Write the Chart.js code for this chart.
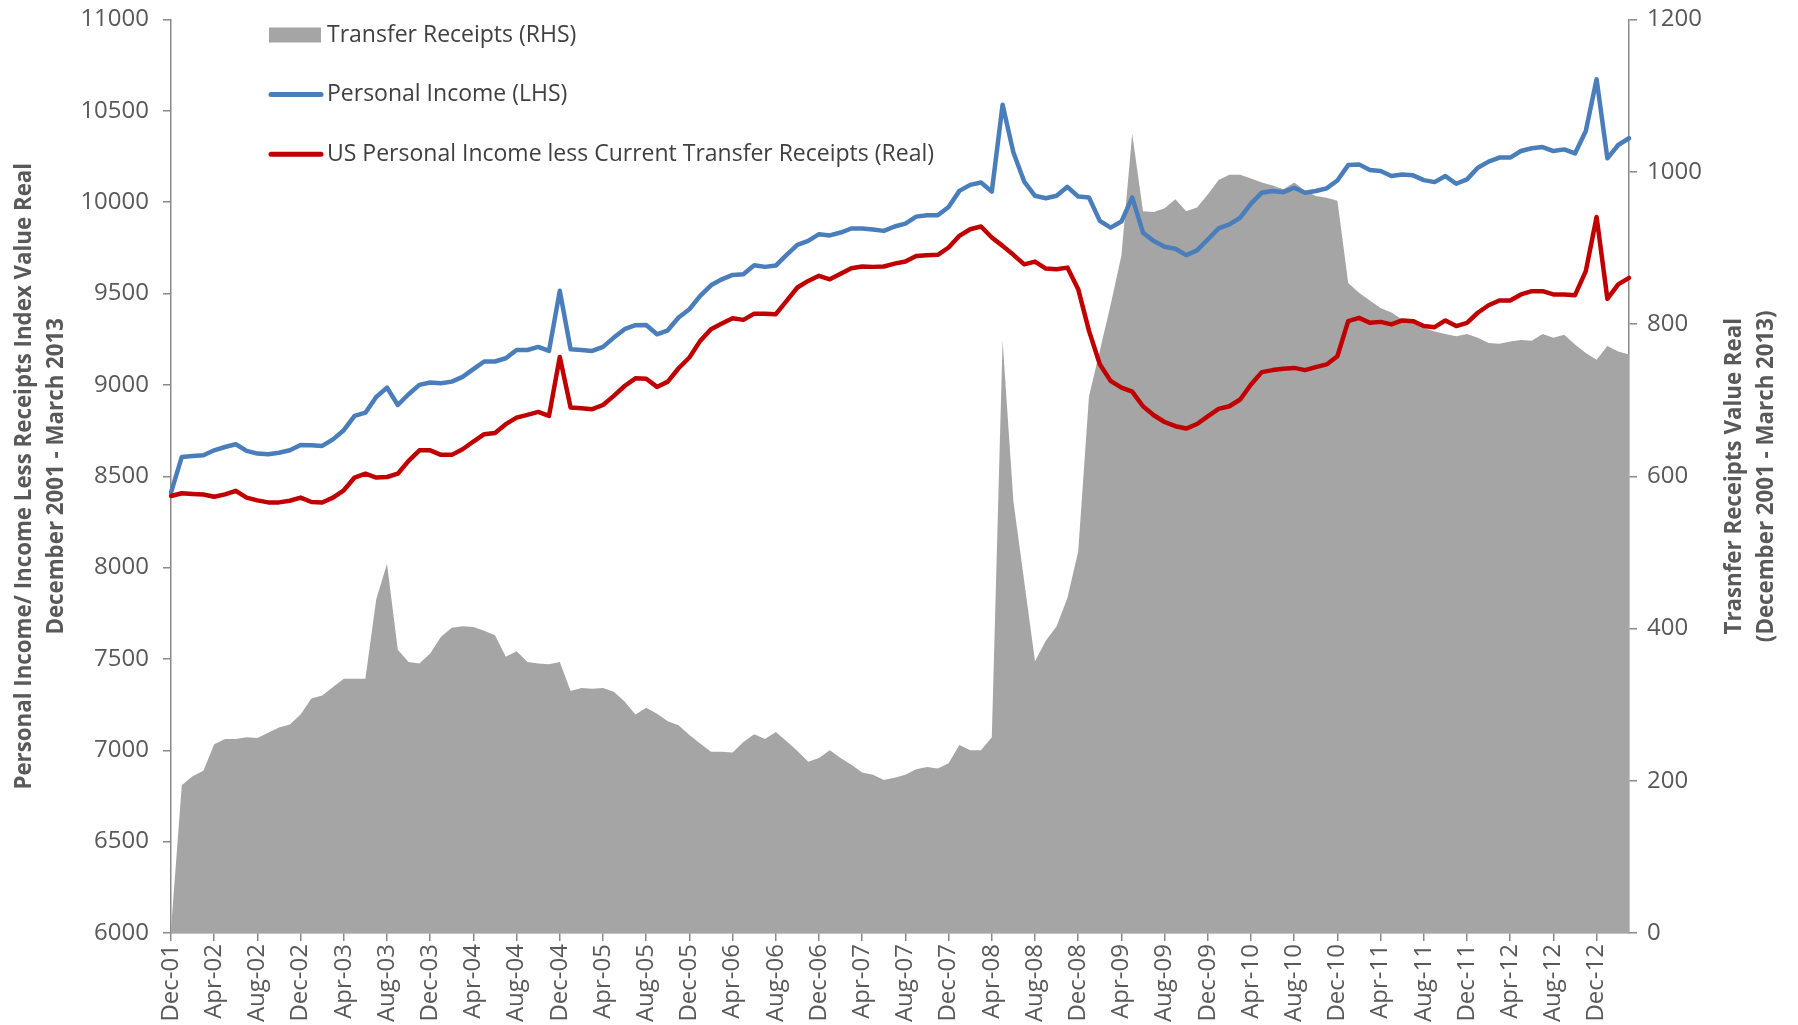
<!DOCTYPE html>
<html>
<head>
<meta charset="utf-8">
<script src="https://cdn.jsdelivr.net/npm/chart.js@4.4.0/dist/chart.umd.min.js"></script>
<style>
  html, body { margin: 0; padding: 0; background: #fff; }
  canvas { display: block; }
</style>
</head>
<body>
<canvas id="chart" width="1798" height="1025"></canvas>
<script>
// categories: monthly, Dec-01 .. Mar-13
let monthNames = ['Jan', 'Feb', 'Mar', 'Apr', 'May', 'Jun', 'Jul', 'Aug', 'Sep', 'Oct', 'Nov', 'Dec'];
let months = ['Dec-01'];
for (let y = 2; y <= 13; y++) {
    for (let m = 0; m < 12; m++) {
        if (y === 13 && m > 2) break;
        months.push(monthNames[m] + '-' + String(y).padStart(2, '0'));
    }
}

// Transfer Receipts (RHS)
let transferReceipts = [
    5, 194, 206, 213, 248, 255, 255, 257, 256, 263, 270, 274,
    287, 308, 312, 323, 334, 334, 334, 438, 485, 372, 356, 354,
    367, 389, 401, 403, 402, 397, 391, 363, 370, 356, 354, 353,
    356, 318, 322, 321, 322, 317, 304, 287, 296, 288, 278, 273,
    260, 249, 238, 238, 237, 251, 261, 255, 264, 252, 239, 225,
    230, 240, 230, 221, 211, 208, 201, 204, 208, 215, 218, 216,
    223, 247, 240, 240, 257, 778, 567, 462, 357, 384, 403, 440,
    501, 705, 765, 825, 890, 1050, 948, 947, 952, 964, 948, 953,
    970, 989, 996, 996, 991, 986, 982, 977, 986, 975, 968, 966,
    962, 854, 841, 831, 821, 815, 806, 801, 795, 790, 787, 784,
    787, 782, 775, 774, 777, 779, 778, 787, 782, 786, 773, 762,
    753, 771, 764, 760
];

// Personal Income (LHS)
let personalIncome = [
    8410, 8606, 8611, 8615, 8642, 8660, 8675, 8639, 8624, 8620, 8629, 8642,
    8671, 8670, 8666, 8702, 8752, 8830, 8848, 8934, 8985, 8890, 8949, 9000,
    9013, 9009, 9018, 9044, 9086, 9128, 9128, 9146, 9191, 9191, 9208, 9186,
    9515, 9195, 9191, 9186, 9208, 9259, 9305, 9327, 9328, 9277, 9299, 9369,
    9414, 9487, 9545, 9578, 9602, 9606, 9655, 9646, 9653, 9712, 9766, 9788,
    9825, 9818, 9834, 9856, 9856, 9850, 9843, 9867, 9883, 9921, 9929, 9929,
    9974, 10062, 10095, 10108, 10058, 10533, 10272, 10113, 10035, 10022, 10035, 10084,
    10031, 10026, 9898, 9861, 9894, 10026, 9833, 9787, 9756, 9745, 9710, 9736,
    9796, 9857, 9879, 9915, 9992, 10052, 10061, 10055, 10079, 10052, 10061, 10076,
    10119, 10203, 10207, 10176, 10171, 10143, 10152, 10147, 10121, 10110, 10143, 10101,
    10125, 10189, 10222, 10244, 10244, 10280, 10295, 10302, 10280, 10289, 10267, 10390,
    10673, 10240, 10313, 10350
];

// US Personal Income less Current Transfer Receipts (Real)
let incomeLessTransfers = [
    8392, 8407, 8403, 8400, 8388, 8401, 8420, 8383, 8368, 8357, 8357, 8366,
    8383, 8359, 8356, 8383, 8423, 8493, 8514, 8493, 8496, 8514, 8584, 8642,
    8642, 8617, 8617, 8648, 8690, 8730, 8737, 8785, 8821, 8836, 8852, 8830,
    9153, 8876, 8872, 8867, 8890, 8940, 8994, 9036, 9034, 8989, 9018, 9091,
    9150, 9241, 9305, 9336, 9365, 9356, 9390, 9390, 9387, 9460, 9533, 9569,
    9597, 9578, 9609, 9639, 9648, 9646, 9648, 9664, 9675, 9706, 9710, 9712,
    9752, 9816, 9852, 9867, 9807, 9761, 9712, 9660, 9675, 9637, 9633, 9642,
    9524, 9296, 9113, 9022, 8985, 8963, 8883, 8834, 8797, 8774, 8761, 8786,
    8828, 8869, 8883, 8920, 9002, 9070, 9081, 9088, 9093, 9081, 9097, 9112,
    9157, 9349, 9367, 9340, 9345, 9331, 9353, 9349, 9322, 9316, 9353, 9322,
    9340, 9395, 9436, 9462, 9462, 9495, 9513, 9513, 9495, 9495, 9491, 9623,
    9919, 9471, 9550, 9586
];

let leftTitle = ['Personal Income/ Income Less Receipts Index Value Real', 'December 2001 - March 2013'];
let rightTitle = ['Trasnfer Receipts Value Real', '(December 2001 - March 2013)'];

let axisGray = '#898989';
let textGray = '#595959';

// titles and legend drawn by hand
let extras = {
    id: 'extras',
    afterDraw(chart) {
        let ctx = chart.ctx;
        let area = chart.chartArea;
        let midY = (area.top + area.bottom) / 2;

        ctx.save();
        ctx.fillStyle = textGray;
        ctx.font = 'bold 22.3px "Open Sans"';
        ctx.textAlign = 'center';
        ctx.textBaseline = 'middle';
        let titles = [[25, leftTitle[0]], [57, leftTitle[1]], [1735, rightTitle[0]], [1767, rightTitle[1]]];
        titles.forEach(function (t) {
            ctx.save();
            ctx.translate(t[0], midY);
            ctx.rotate(-Math.PI / 2);
            ctx.fillText(t[1], 0, 0);
            ctx.restore();
        });

        // legend
        ctx.font = '23px "Open Sans"';
        ctx.textAlign = 'left';
        chart.data.datasets.forEach(function (ds, i) {
            let y = 35 + i * 59.6;
            if (ds.fill) {
                ctx.fillStyle = ds.backgroundColor;
                ctx.fillRect(269, y - 7.5, 52, 15);
            } else {
                ctx.strokeStyle = ds.borderColor;
                ctx.lineWidth = 5;
                ctx.lineCap = 'round';
                ctx.beginPath();
                ctx.moveTo(271, y);
                ctx.lineTo(321, y);
                ctx.stroke();
            }
            ctx.fillStyle = '#404040';
            ctx.fillText(ds.label, 327, y);
        });
        ctx.restore();
    }
};

function fitVertical(width) {
    return function (scale) {
        scale.width = width;
        scale.paddingTop = 0;
        scale.paddingBottom = 0;
    };
}

let ctx = document.getElementById('chart').getContext('2d');

let chart = new Chart(ctx, {
    type: 'line',
    data: {
        labels: months,
        datasets: [{
            label: 'Transfer Receipts (RHS)',
            data: transferReceipts,
            yAxisID: 'y1',
            fill: 'origin',
            backgroundColor: '#A5A5A5',
            borderWidth: 0,
            pointRadius: 0,
            order: 2
        }, {
            label: 'Personal Income (LHS)',
            data: personalIncome,
            yAxisID: 'y',
            fill: false,
            borderColor: '#4A7EBB',
            borderWidth: 4.5,
            borderJoinStyle: 'round',
            borderCapStyle: 'round',
            pointRadius: 0,
            order: 1
        }, {
            label: 'US Personal Income less Current Transfer Receipts (Real)',
            data: incomeLessTransfers,
            yAxisID: 'y',
            fill: false,
            borderColor: '#C00000',
            borderWidth: 4.5,
            borderJoinStyle: 'round',
            borderCapStyle: 'round',
            pointRadius: 0,
            order: 0
        }]
    },
    options: {
        responsive: false,
        animation: false,
        layout: { padding: { top: 19.5, left: 0, right: 0, bottom: 0 } },
        plugins: {
            legend: { display: false },
            tooltip: { enabled: false }
        },
        scales: {
            x: {
                offset: false,
                afterFit: function (scale) { scale.height = 92; },
                grid: {
                    drawOnChartArea: false,
                    drawTicks: true,
                    tickLength: 8,
                    lineWidth: 1.5,
                    color: function (c) { return c.index % 4 === 0 ? axisGray : 'rgba(0,0,0,0)'; }
                },
                border: { color: axisGray, width: 1.5 },
                ticks: {
                    autoSkip: false,
                    maxRotation: 90,
                    minRotation: 90,
                    padding: 3,
                    color: textGray,
                    font: { family: 'Open Sans', size: 24 },
                    callback: function (v, i) { return i % 4 === 0 ? months[i] : ''; }
                }
            },
            y: {
                position: 'left',
                min: 6000,
                max: 11000,
                afterFit: fitVertical(171),
                grid: { drawOnChartArea: false, tickLength: 8, lineWidth: 1.5, color: axisGray },
                border: { color: axisGray, width: 1.5 },
                ticks: {
                    stepSize: 500,
                    padding: 14,
                    color: textGray,
                    font: { family: 'Open Sans', size: 24 },
                    callback: function (v) { return String(v); }
                }
            },
            y1: {
                position: 'right',
                min: 0,
                max: 1200,
                afterFit: fitVertical(169),
                grid: { drawOnChartArea: false, tickLength: 8, lineWidth: 1.5, color: axisGray },
                border: { color: axisGray, width: 1.5 },
                ticks: {
                    stepSize: 200,
                    padding: 10,
                    color: textGray,
                    font: { family: 'Open Sans', size: 24 },
                    callback: function (v) { return String(v); }
                }
            }
        }
    },
    plugins: [extras]
});
</script>
</body>
</html>
